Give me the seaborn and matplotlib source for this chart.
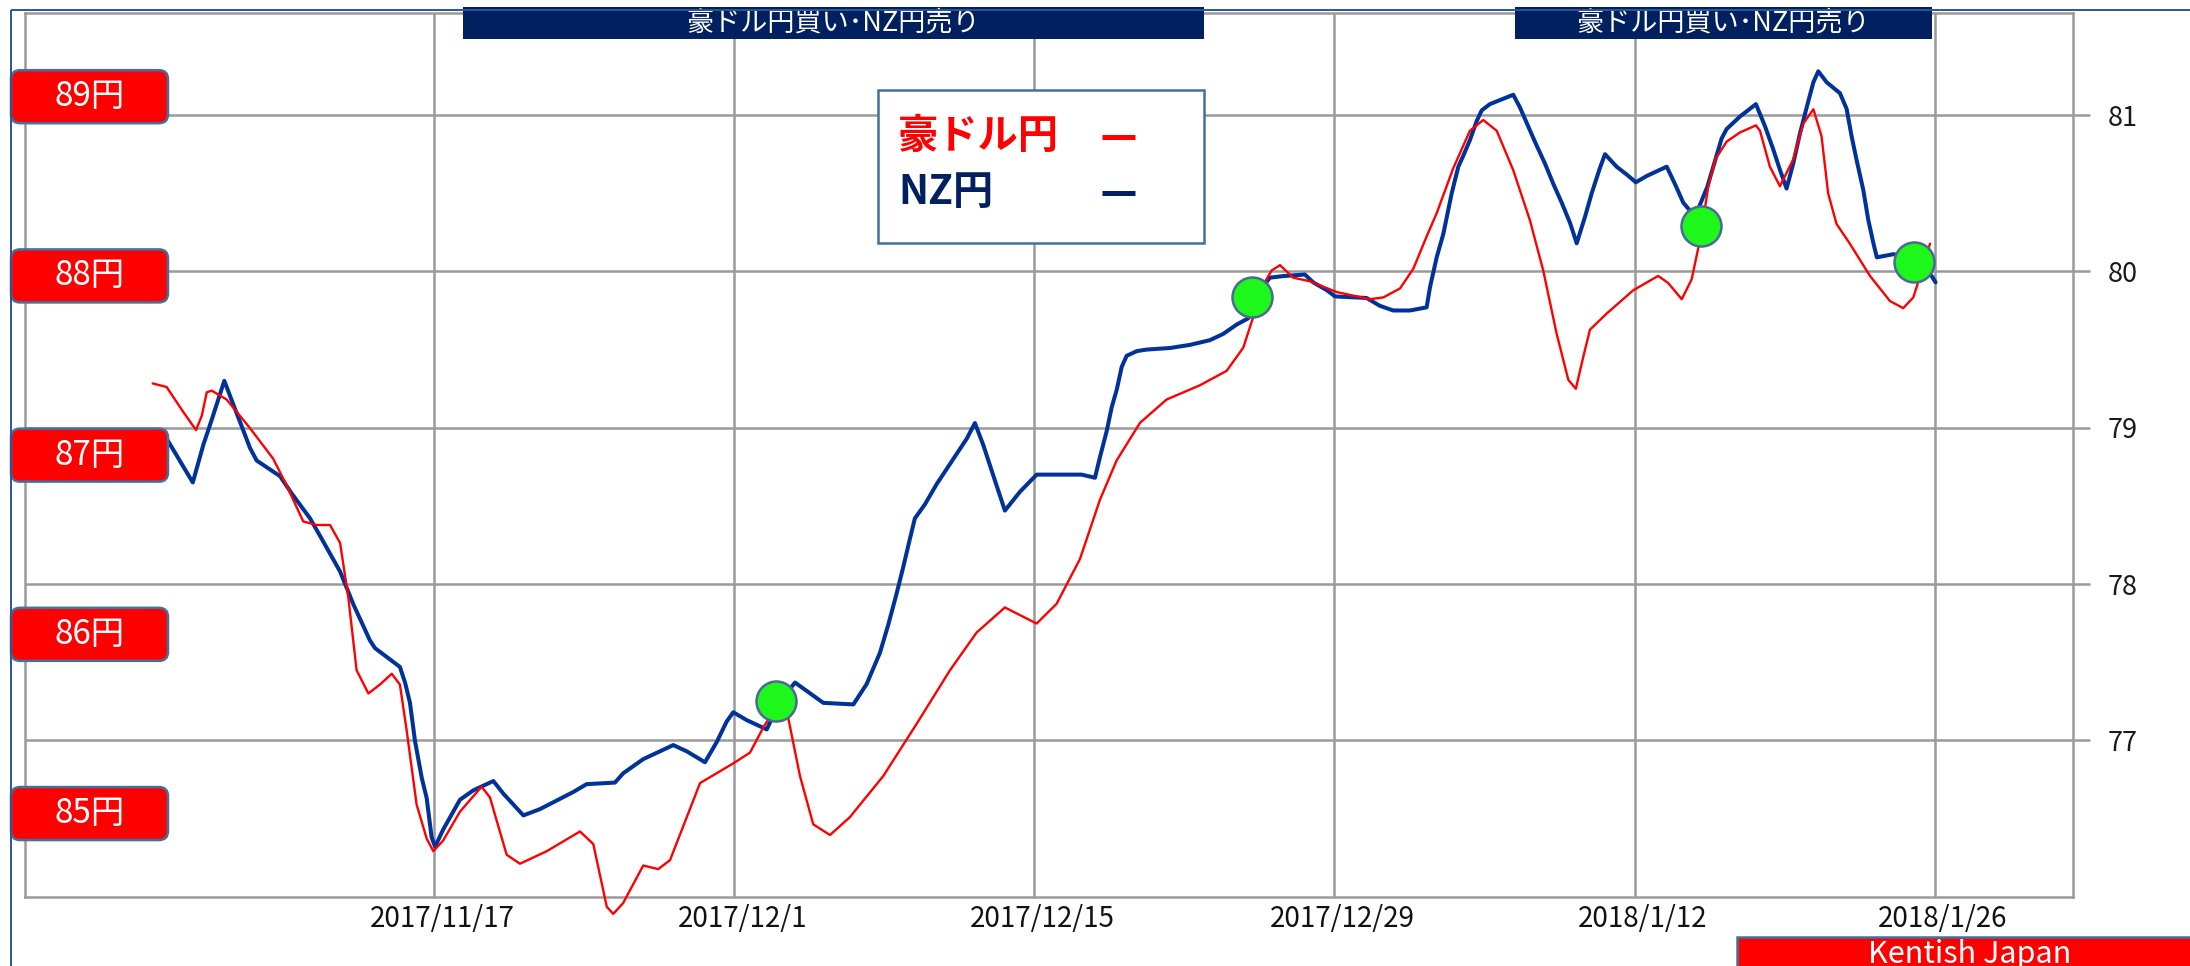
import numpy as np
import pandas as pd
import matplotlib
matplotlib.use("Agg")
import matplotlib.pyplot as plt
import matplotlib.dates as mdates
import matplotlib.transforms as mtransforms
from matplotlib.patches import FancyBboxPatch, Rectangle
import seaborn as sns

# ---------------- data ----------------
BASE = pd.Timestamp("2017-11-17")  # day offsets below are relative to this date

nzd_day = [-12.6, -12.47, -11.25, -10.76, -10.37, -9.78, -9.28, -8.58, -8.27, -7.18,
           -6.64, -5.78, -5.24, -4.38, -3.76, -2.99, -2.75, -1.59, -1.35, -1.12,
           -0.89, -0.57, -0.34, -0.11, 0.05, 0.43, 1.21, 1.83, 2.77, 3.23,
           4.17, 4.94, 6.50, 7.12, 8.44, 8.83, 9.76, 11.16, 11.79, 12.64,
           13.19, 13.65, 13.96, 14.58, 15.52, 16.14, 16.84, 18.16, 19.56, 20.18,
           20.80, 21.19, 21.58, 21.89, 22.20, 22.43, 22.90, 23.45, 24.22, 24.85,
           25.23, 25.62, 26.17, 26.63, 27.33, 28.11, 30.21, 30.83, 31.06, 31.38,
           31.61, 31.84, 32.08, 32.31, 32.78, 33.24, 34.33, 35.26, 36.19, 36.81,
           37.44, 37.98, 38.53, 38.99, 39.61, 40.62, 41.01, 41.64, 42.03, 43.50,
           44.12, 44.74, 45.52, 46.30, 46.46, 46.77, 47.08, 47.47, 47.78, 48.01,
           48.32, 48.63, 48.87, 49.25, 49.80, 50.34, 50.65, 50.97, 51.35, 51.82,
           52.21, 52.60, 52.99, 53.30, 53.69, 54.00, 54.38, 54.62, 55.16, 55.63,
           56.06, 56.56, 57.18, 57.50, 57.88, 58.27, 58.82, 59.39, 59.67, 60.06,
           60.29, 60.91, 61.66, 62.08, 62.47, 62.78, 63.09, 63.40, 63.71, 64.03,
           64.34, 64.57, 64.96, 65.58, 65.89, 66.13, 66.36, 66.67, 66.90, 67.14,
           67.30, 68.07, 69.08, 69.86, 70.04]
nzd_val = [78.94, 78.93, 78.65, 78.89, 79.05, 79.30, 79.12, 78.87, 78.79, 78.69,
           78.58, 78.42, 78.29, 78.08, 77.87, 77.64, 77.59, 77.47, 77.37, 77.24,
           77.00, 76.76, 76.63, 76.38, 76.32, 76.43, 76.62, 76.68, 76.74, 76.66,
           76.52, 76.56, 76.67, 76.72, 76.73, 76.79, 76.88, 76.97, 76.93, 76.86,
           76.99, 77.12, 77.18, 77.13, 77.07, 77.25, 77.37, 77.24, 77.23, 77.36,
           77.56, 77.74, 77.94, 78.11, 78.29, 78.42, 78.51, 78.64, 78.80, 78.93,
           79.03, 78.89, 78.66, 78.47, 78.59, 78.70, 78.70, 78.68, 78.81, 78.98,
           79.13, 79.24, 79.39, 79.46, 79.49, 79.50, 79.51, 79.53, 79.56, 79.60,
           79.66, 79.70, 79.88, 79.96, 79.97, 79.98, 79.93, 79.88, 79.84, 79.83,
           79.78, 79.75, 79.75, 79.77, 79.90, 80.09, 80.24, 80.50, 80.67, 80.74,
           80.84, 80.96, 81.03, 81.07, 81.10, 81.13, 81.05, 80.95, 80.83, 80.69,
           80.56, 80.44, 80.31, 80.18, 80.35, 80.50, 80.66, 80.75, 80.67, 80.62,
           80.57, 80.61, 80.65, 80.67, 80.56, 80.44, 80.35, 80.54, 80.67, 80.85,
           80.91, 80.99, 81.07, 80.93, 80.78, 80.65, 80.53, 80.69, 80.88, 81.05,
           81.21, 81.28, 81.21, 81.14, 81.04, 80.86, 80.71, 80.52, 80.33, 80.18,
           80.09, 80.11, 80.08, 79.97, 79.93]

aud_day = [-13.12, -12.47, -11.69, -11.10, -10.83, -10.60, -10.37, -9.67, -8.58, -7.50,
           -6.87, -6.10, -5.47, -4.85, -4.38, -4.00, -3.61, -3.06, -2.52, -1.97,
           -1.59, -1.27, -0.81, -0.34, -0.03, 0.43, 1.21, 2.22, 2.61, 3.39,
           4.01, 5.26, 6.81, 7.43, 8.06, 8.36, 8.82, 9.76, 10.46, 11.01,
           12.41, 13.96, 14.74, 15.36, 15.83, 16.53, 17.07, 17.69, 18.47, 19.40,
           20.96, 22.51, 24.07, 25.31, 26.63, 28.11, 29.04, 30.13, 31.06, 31.84,
           32.93, 34.17, 35.73, 36.97, 37.75, 38.21, 38.68, 39.07, 39.46, 40.08,
           40.86, 42.10, 43.66, 44.28, 45.06, 45.68, 46.30, 46.77, 47.54, 48.32,
           48.94, 49.57, 50.34, 51.12, 51.74, 52.36, 52.91, 53.26, 53.61, 53.92,
           54.70, 55.94, 57.10, 57.57, 58.20, 58.66, 59.05, 59.44, 59.76, 60.30,
           60.91, 61.66, 61.85, 62.31, 62.78, 63.40, 63.87, 64.34, 64.72, 65.03,
           65.42, 66.04, 66.98, 67.91, 68.53, 69.00, 69.46, 69.78]
aud_val = [87.40, 87.38, 87.24, 87.14, 87.22, 87.35, 87.36, 87.31, 87.15, 86.98,
           86.83, 86.63, 86.61, 86.61, 86.51, 86.21, 85.80, 85.67, 85.72, 85.78,
           85.72, 85.46, 85.05, 84.86, 84.79, 84.85, 85.01, 85.15, 85.09, 84.77,
           84.72, 84.79, 84.90, 84.83, 84.48, 84.44, 84.50, 84.71, 84.69, 84.74,
           85.17, 85.28, 85.34, 85.48, 85.57, 85.53, 85.21, 84.94, 84.88, 84.98,
           85.21, 85.50, 85.80, 86.01, 86.15, 86.06, 86.17, 86.42, 86.75, 86.97,
           87.18, 87.31, 87.39, 87.47, 87.60, 87.77, 87.95, 88.03, 88.06, 87.99,
           87.97, 87.91, 87.87, 87.88, 87.93, 88.04, 88.22, 88.35, 88.60, 88.81,
           88.87, 88.81, 88.59, 88.31, 88.03, 87.68, 87.42, 87.37, 87.55, 87.70,
           87.79, 87.92, 88.00, 87.96, 87.87, 87.98, 88.20, 88.50, 88.65, 88.75,
           88.80, 88.84, 88.81, 88.61, 88.50, 88.65, 88.85, 88.93, 88.78, 88.46,
           88.29, 88.18, 88.00, 87.86, 87.82, 87.88, 88.05, 88.18]

signal_day = [15.94, 38.17, 59.08, 69.03]
signal_aud = [85.63, 87.88, 88.28, 88.08]

tick_dates = ["2017-11-17", "2017-12-01", "2017-12-15", "2017-12-29", "2018-01-12", "2018-01-26"]
tick_labels = ["2017/11/17", "2017/12/1", "2017/12/15", "2017/12/29", "2018/1/12", "2018/1/26"]
nzd_ticks = [77, 78, 79, 80, 81]
aud_ticks = [85, 86, 87, 88, 89]
aud_tick_labels = ["85円", "86円", "87円", "88円", "89円"]

banner_start = ["2017-11-18 08:30", "2018-01-06 10:00"]
banner_end = ["2017-12-22 22:00", "2018-01-25 21:00"]
banner_text = "豪ドル円買い･NZ円売り"
legend_labels = ["豪ドル円", "NZ円"]
credit = "Kentish Japan"

x_start = BASE - pd.Timedelta(days=19.10)
x_end = BASE + pd.Timedelta(days=76.45)

# ---------------- style ----------------
sns.set_theme(style="white")
plt.rcParams["font.family"] = ["Noto Sans CJK JP", "DejaVu Sans"]

RED = "#FF0000"
NAVY = "#002060"
BLUE = "#003399"
GRID = "#9A9A9A"
EDGE = "#41719C"
GREEN = "#1EF71A"

W_PX, H_PX = 2190, 966
fig = plt.figure(figsize=(W_PX / 100, H_PX / 100), dpi=100)
L, R, T, B = 24.5, 2073, 13, 896.7
ax = fig.add_axes([L / W_PX, 1 - B / H_PX, (R - L) / W_PX, (B - T) / H_PX])
ax_aud = ax.twinx()
ax.yaxis.tick_right()
ax.set_zorder(1)
ax_aud.set_zorder(2)

nzd_df = pd.DataFrame({"date": BASE + pd.to_timedelta(nzd_day, unit="D"), "NZ円": nzd_val})
aud_df = pd.DataFrame({"date": BASE + pd.to_timedelta(aud_day, unit="D"), "豪ドル円": aud_val})
sig_df = pd.DataFrame({"date": BASE + pd.to_timedelta(signal_day, unit="D"), "豪ドル円": signal_aud})

sns.lineplot(data=nzd_df, x="date", y="NZ円", ax=ax, color=BLUE, linewidth=2.9,
             estimator=None, sort=False, zorder=3)
sns.lineplot(data=aud_df, x="date", y="豪ドル円", ax=ax_aud, color=RED, linewidth=1.7,
             estimator=None, sort=False, clip_on=False, zorder=4)
sns.scatterplot(data=sig_df, x="date", y="豪ドル円", ax=ax_aud, s=830, color=GREEN,
                edgecolor="#4A6B95", linewidth=1.8, zorder=6, clip_on=False)

# axes ranges
ax.set_xlim(x_start, x_end)
ax.set_ylim(76.0, 81.653)
ax_aud.set_ylim(84.536, 89.467)

# grid / ticks
ax.set_xticks(pd.to_datetime(tick_dates))
ax.set_xticklabels(tick_labels)
ax.set_yticks(nzd_ticks)
ax.set_yticklabels([str(v) for v in nzd_ticks])
ax.grid(True, color=GRID, linewidth=1.8)
ax.set_axisbelow(True)
ax.tick_params(axis="x", length=0, pad=5, labelsize=20, labelcolor="#111111")
ax.tick_params(axis="y", right=True, left=False, labelright=True, labelleft=False,
               length=12, width=1.8, color=GRID, pad=13, labelsize=19.5, labelcolor="#1A1A1A")
for lbl in ax.get_xticklabels():
    lbl.set_transform(lbl.get_transform() + mtransforms.ScaledTranslation(8 / 100, 0, fig.dpi_scale_trans))
for sp in ax.spines.values():
    sp.set_color(GRID)
    sp.set_linewidth(1.8)
ax_aud.set_yticks([])
ax_aud.tick_params(right=False, labelright=False)
for sp in ax_aud.spines.values():
    sp.set_visible(False)
ax.set_xlabel("")
ax.set_ylabel("")
ax_aud.set_xlabel("")
ax_aud.set_ylabel("")

# banners (periods, placed by date on the x axis)
btrans = mtransforms.blended_transform_factory(ax_aud.transData, ax_aud.transAxes)
y_top = (B - 7) / (B - T)
y_bot = (B - 39) / (B - T)
for s, e in zip(banner_start, banner_end):
    x0 = mdates.date2num(pd.Timestamp(s))
    x1 = mdates.date2num(pd.Timestamp(e))
    ax_aud.add_patch(Rectangle((x0, y_bot), x1 - x0, y_top - y_bot, transform=btrans,
                               facecolor=NAVY, edgecolor="none", clip_on=False, zorder=8))
    ax_aud.text((x0 + x1) / 2, (y_top + y_bot) / 2, banner_text, transform=btrans,
                ha="center", va="center", color="white", fontsize=19.5, clip_on=False, zorder=9)

# overlay in figure pixels for decorations
ov = fig.add_axes([0, 0, 1, 1], zorder=10)
ov.set_xlim(0, W_PX)
ov.set_ylim(H_PX, 0)
ov.axis("off")

# figure border
ov.plot([11, 11], [10, H_PX], color="#2F5597", linewidth=1.4, solid_capstyle="butt")
ov.plot([11, W_PX], [10, 10], color="#2F5597", linewidth=1.4, solid_capstyle="butt")

# left axis labels (red boxes) placed through the AUD axis scale
inv = ov.transData.inverted()
for v, lab in zip(aud_ticks, aud_tick_labels):
    disp = ax_aud.transData.transform((mdates.date2num(x_start), v))
    yc = inv.transform(disp)[1]
    ov.add_patch(FancyBboxPatch((11, yc - 26.5), 157, 53,
                                boxstyle="round,pad=0,rounding_size=9",
                                facecolor=RED, edgecolor=EDGE, linewidth=1.8))
    ov.text(89.5, yc, lab, ha="center", va="center", color="white", fontsize=24)

# legend box
ov.add_patch(Rectangle((878, 90), 326, 153, facecolor="white", edgecolor=EDGE, linewidth=1.8))
ov.text(898, 137, legend_labels[0], ha="left", va="center", color=RED, fontsize=29, fontweight="bold")
ov.text(898, 193, legend_labels[1], ha="left", va="center", color=NAVY, fontsize=29, fontweight="bold")
ov.plot([1102, 1135], [137, 137], color=RED, linewidth=3.6, solid_capstyle="butt")
ov.plot([1102, 1135], [193, 193], color=NAVY, linewidth=3.6, solid_capstyle="butt")

# credit box
ov.add_patch(Rectangle((1737, 937), 480, 40, facecolor=RED, edgecolor=EDGE, linewidth=1.8, clip_on=False))
ov.text(1970, 963, credit, ha="center", va="baseline", color="white", fontsize=22)

fig.savefig("out.png", dpi=100)
